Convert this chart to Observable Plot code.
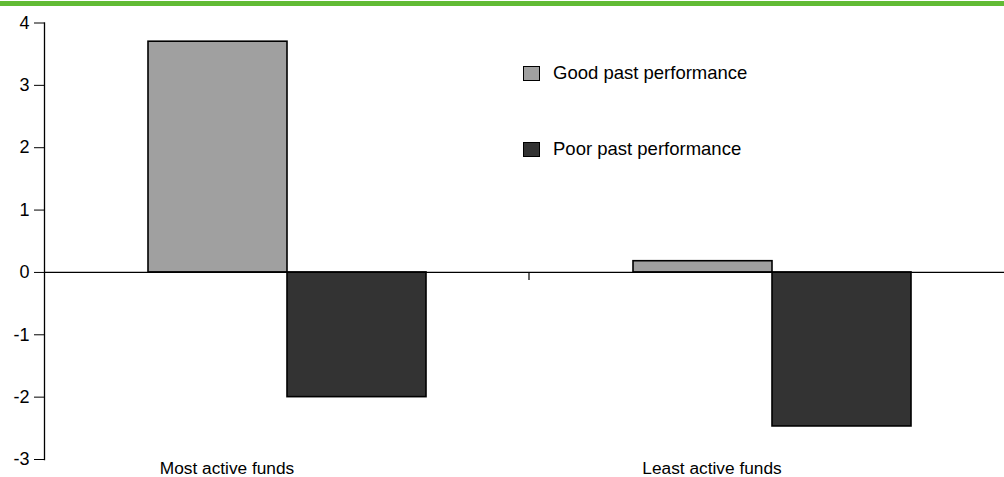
<!DOCTYPE html>
<html>
<head>
<meta charset="utf-8">
<script src="https://cdn.jsdelivr.net/npm/d3@7"></script>
<script src="https://cdn.jsdelivr.net/npm/@observablehq/plot@0.6"></script>
<style>
  html, body { margin: 0; padding: 0; background: #fff; }
  body { font-family: "Liberation Sans", Arial, sans-serif; }
  #wrap { position: relative; width: 1004px; height: 477px; overflow: hidden; }
  #topbar { position: absolute; left: 0; top: 1px; width: 1004px; height: 5px; background: #62bb35; }
  #legend { position: absolute; left: 523px; top: 0; }
  .row { position: absolute; left: 0; display: flex; align-items: center; white-space: nowrap; font-size: 18.5px; color: #000; }
  .sw { width: 15px; height: 13px; border: 1.5px solid #000; margin-right: 13px; }
</style>
</head>
<body>
<div id="wrap">
  <div id="chart"></div>
  <div id="topbar"></div>
  <div id="legend"></div>
</div>
<script>
const categories = ["Most active funds", "Least active funds"];
const series = ["Good past performance", "Poor past performance"];
const goodValues = [3.7, 0.18];
const poorValues = [-2.0, -2.47];
const yTicks = [-3, -2, -1, 0, 1, 2, 3, 4];
const seriesColors = ["#a0a0a0", "#333333"];

const data = categories.flatMap((c, i) => [
  { category: c, series: series[0], value: goodValues[i] },
  { category: c, series: series[1], value: poorValues[i] }
]);

const chart = Plot.plot({
  width: 1004,
  height: 477,
  marginTop: 22.5,
  marginBottom: 18,
  marginLeft: 43,
  marginRight: 0,
  style: { fontFamily: "Liberation Sans, Arial, sans-serif", color: "#000", background: "#fff" },
  fx: { domain: categories, range: [43, 1014], padding: 0, label: null },
  x: { domain: series, paddingInner: 0, paddingOuter: 0.744, axis: null },
  y: { domain: [-3, 4], label: null },
  color: { domain: series, range: seriesColors },
  marks: [
    Plot.barY(data, { fx: "category", x: "series", y: "value", fill: "series", stroke: "#000", strokeWidth: 1.6 }),
    Plot.ruleY([0], { stroke: "#000", strokeWidth: 1.3 }),
    Plot.axisY({ ticks: yTicks, tickSize: 10, tickPadding: 5, fontSize: 18, tickFormat: d => String(d), stroke: "#000" }),
    Plot.frame({ anchor: "left", facetAnchor: "left", stroke: "#000", strokeWidth: 1.3 }),
    Plot.axisFx({ anchor: "bottom", tickSize: 0, tickPadding: 2, fontSize: 17.3, dx: -60, label: null })
  ]
});
document.getElementById("chart").appendChild(chart);

// category separator tick at the boundary between the two category bands
const fxScale = chart.scale("fx");
const yScale = chart.scale("y");
const sepX = fxScale.apply(categories[1]);
const y0 = yScale.apply(0);
d3.select(chart).append("line")
  .attr("x1", sepX).attr("x2", sepX)
  .attr("y1", y0).attr("y2", y0 + 8)
  .attr("stroke", "#000").attr("stroke-width", 1.2);

// legend
const legendTops = [62, 138];
const legend = d3.select("#legend");
series.forEach((s, i) => {
  const row = legend.append("div").attr("class", "row").style("top", legendTops[i] + "px");
  row.append("div").attr("class", "sw").style("background", seriesColors[i]);
  row.append("span").text(s);
});
</script>
</body>
</html>
